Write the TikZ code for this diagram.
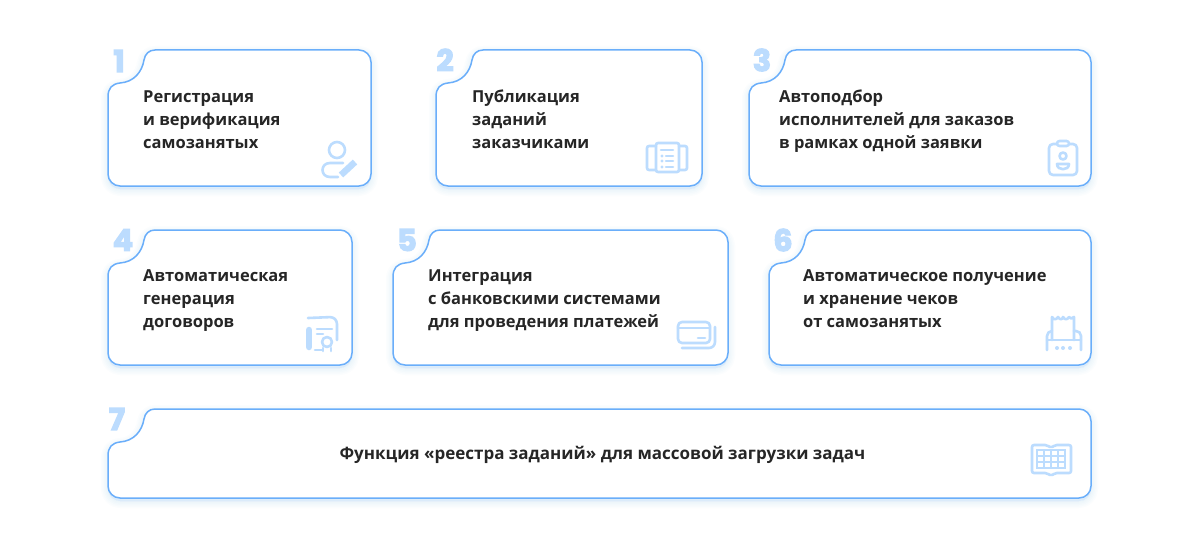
\documentclass[tikz,border=0pt]{standalone}
\usepackage{fontspec}
\setmainfont{Open Sans}
\newfontfamily\numfont{Poppins}[BoldFeatures={FakeBold=4}]
\definecolor{edge}{HTML}{6AAEFA}
\definecolor{iconc}{HTML}{BCDCFE}
\definecolor{numc}{HTML}{BCDCFE}
\definecolor{ink}{HTML}{262626}
\definecolor{shade}{HTML}{6AAEFA}
\newcommand{\cardshape}[2]{(0,47) .. controls (0,38) and (4,34) .. (12,33) .. controls (26,32) and (34,22) .. (36,10) .. controls (37,4) and (41,0) .. (47,0) -- (#1-12,0) .. controls (#1-5.4,0) and (#1,5.4) .. (#1,12) -- (#1,#2-12) .. controls (#1,#2-5.4) and (#1-5.4,#2) .. (#1-12,#2) -- (12,#2) .. controls (5.4,#2) and (0,#2-5.4) .. (0,#2-12) -- cycle}
\newcommand{\card}[4]{%
 \begin{scope}[shift={(#1,#2)}]
  \foreach \g in {14,11,8,5,2}{\path[draw=shade,fill=shade,opacity=0.022,line width=\g pt,line join=round,yshift=-3pt] \cardshape{#3}{#4};}
  \path[draw=edge,fill=white,line width=1.5pt] \cardshape{#3}{#4};
 \end{scope}}
\tikzset{
 x=1pt,y=-1pt,
 label/.style={anchor=west,inner sep=0pt,text=ink,font=\fontsize{16.5}{23}\selectfont\bfseries,align=left},
 num/.style={inner sep=0pt,text=numc,font=\numfont\fontsize{30}{30}\selectfont\bfseries},
 ic/.style={draw=iconc,line width=2.6pt,line cap=round,line join=round},
 icf/.style={fill=iconc}
}
\begin{document}
\begin{tikzpicture}
\useasboundingbox (0,0) rectangle (1180,551);
\fill[white] (0,0) rectangle (1180,551);
\card{108}{50}{263}{136}
\card{436}{50}{266}{136}
\card{749}{50}{342}{136}
\card{108}{230}{244}{135}
\card{393}{230}{335}{135}
\card{769}{230}{322}{135}
\card{108}{409}{983}{89}
\node[num] (n1) at (119,61) {1};
\node[num] (n2) at (445,60) {2};
\node[num] (n3) at (762,60) {3};
\node[num] (n4) at (123,240) {4};
\node[num] (n5) at (407,240) {5};
\node[num] (n6) at (783,240) {6};
\node[num] (n7) at (117,419) {7};
\node[label] (t1) at (143,120.5) {\strut Регистрация\\и верификация\\самозанятых\strut};
\node[label] (t2) at (472,120.5) {\strut Публикация\\заданий\\заказчиками\strut};
\node[label] (t3) at (779,120.5) {\strut Автоподбор\\исполнителей для заказов\\в рамках одной заявки\strut};
\node[label] (t4) at (143,300) {\strut Автоматическая\\генерация\\договоров\strut};
\node[label] (t5) at (428,300) {\strut Интеграция\\с банковскими системами\\для проведения платежей\strut};
\node[label] (t6) at (803,300) {\strut Автоматическое получение\\и хранение чеков\\от самозанятых\strut};
\node[label,anchor=center,font=\fontsize{17}{23}\selectfont\bfseries] (t7) at (602.5,455) {\strut Функция «реестра заданий» для массовой загрузки задач\strut};
% icon 1
\draw[ic] (337,150) circle[radius=8pt];
\draw[ic] (343,163) -- (330,163) .. controls (320,163) and (320,177) .. (330,177) -- (338,177);
\draw[iconc,line width=6.5pt] (341,175) -- (355,162);
% icon 2
\draw[ic,rounded corners=2pt] (656,143) rectangle (679,172);
\draw[ic,rounded corners=2pt] (656,146) -- (647,146) -- (647,170) -- (656,170);
\draw[ic,rounded corners=2pt] (679,146) -- (687,146) -- (687,170) -- (679,170);
\draw[ic] (661,150) -- (673,150);
\foreach \y in {156,161,167}{\draw[ic] (666,\y) -- (673,\y); \fill[iconc] (662,\y) circle[radius=1.6pt];}
% icon 3
\draw[ic,rounded corners=4pt] (1049,144) rectangle (1077,175);
\draw[ic,fill=white,rounded corners=2.5pt] (1057,141) rectangle (1069,146);
\draw[ic] (1063,156) circle[radius=3.5pt];
\draw[ic] (1057,164) -- (1069,164) .. controls (1069,171) and (1057,171) .. (1057,164) -- cycle;
% icon 4
\draw[ic,rounded corners=3pt] (308,318) -- (333,317) -- (337,321) -- (337,340);
\draw[iconc,line width=6.5pt,line cap=round] (309,330) -- (309,347);
\draw[ic] (317,329) -- (332,329);
\draw[ic] (317,334) -- (323,334);
\draw[ic] (315,350) -- (322,350);
\draw[ic] (327,342) circle[radius=5pt];
\draw[ic] (323,348) -- (323,351) (331,348) -- (331,351);
% icon 5
\draw[ic,rounded corners=4pt] (678,322) rectangle (710,343);
\draw[ic] (678,328) -- (710,328);
\draw[ic] (698,338) -- (705,338);
\draw[ic,rounded corners=6pt] (682,348) -- (715,348) -- (715,327);
% icon 6
\draw[ic] (1052,340) -- (1052,317) .. controls (1054,320) and (1056,320) .. (1058,317) .. controls (1060,320) and (1062,320) .. (1063,317) .. controls (1065,320) and (1067,320) .. (1069,317) .. controls (1070,319) and (1072,319) .. (1074,317) -- (1074,340);
\draw[ic,rounded corners=5pt] (1047,350) -- (1047,331) -- (1052,331);
\draw[ic,rounded corners=5pt] (1081,350) -- (1081,331) -- (1074,331);
\draw[ic] (1047,340) -- (1081,340);
\foreach \x in {1057,1063,1070}{\fill[iconc] (\x,348) circle[radius=2pt];}
% icon 7
\draw[ic,rounded corners=2pt] (1051,448) -- (1047,445) -- (1032,445) -- (1032,473) -- (1047,473) -- (1051,476) -- (1055,473) -- (1071,473) -- (1071,445) -- (1055,445) -- cycle;
\fill[iconc] (1036,449) rectangle (1066,469);
\foreach \i in {0,1,2,3}{\foreach \j in {0,1,2}{\fill[white] (1038+7*\i,455+6*\j) rectangle ++(5,-4);}}
\end{tikzpicture}
\end{document}
